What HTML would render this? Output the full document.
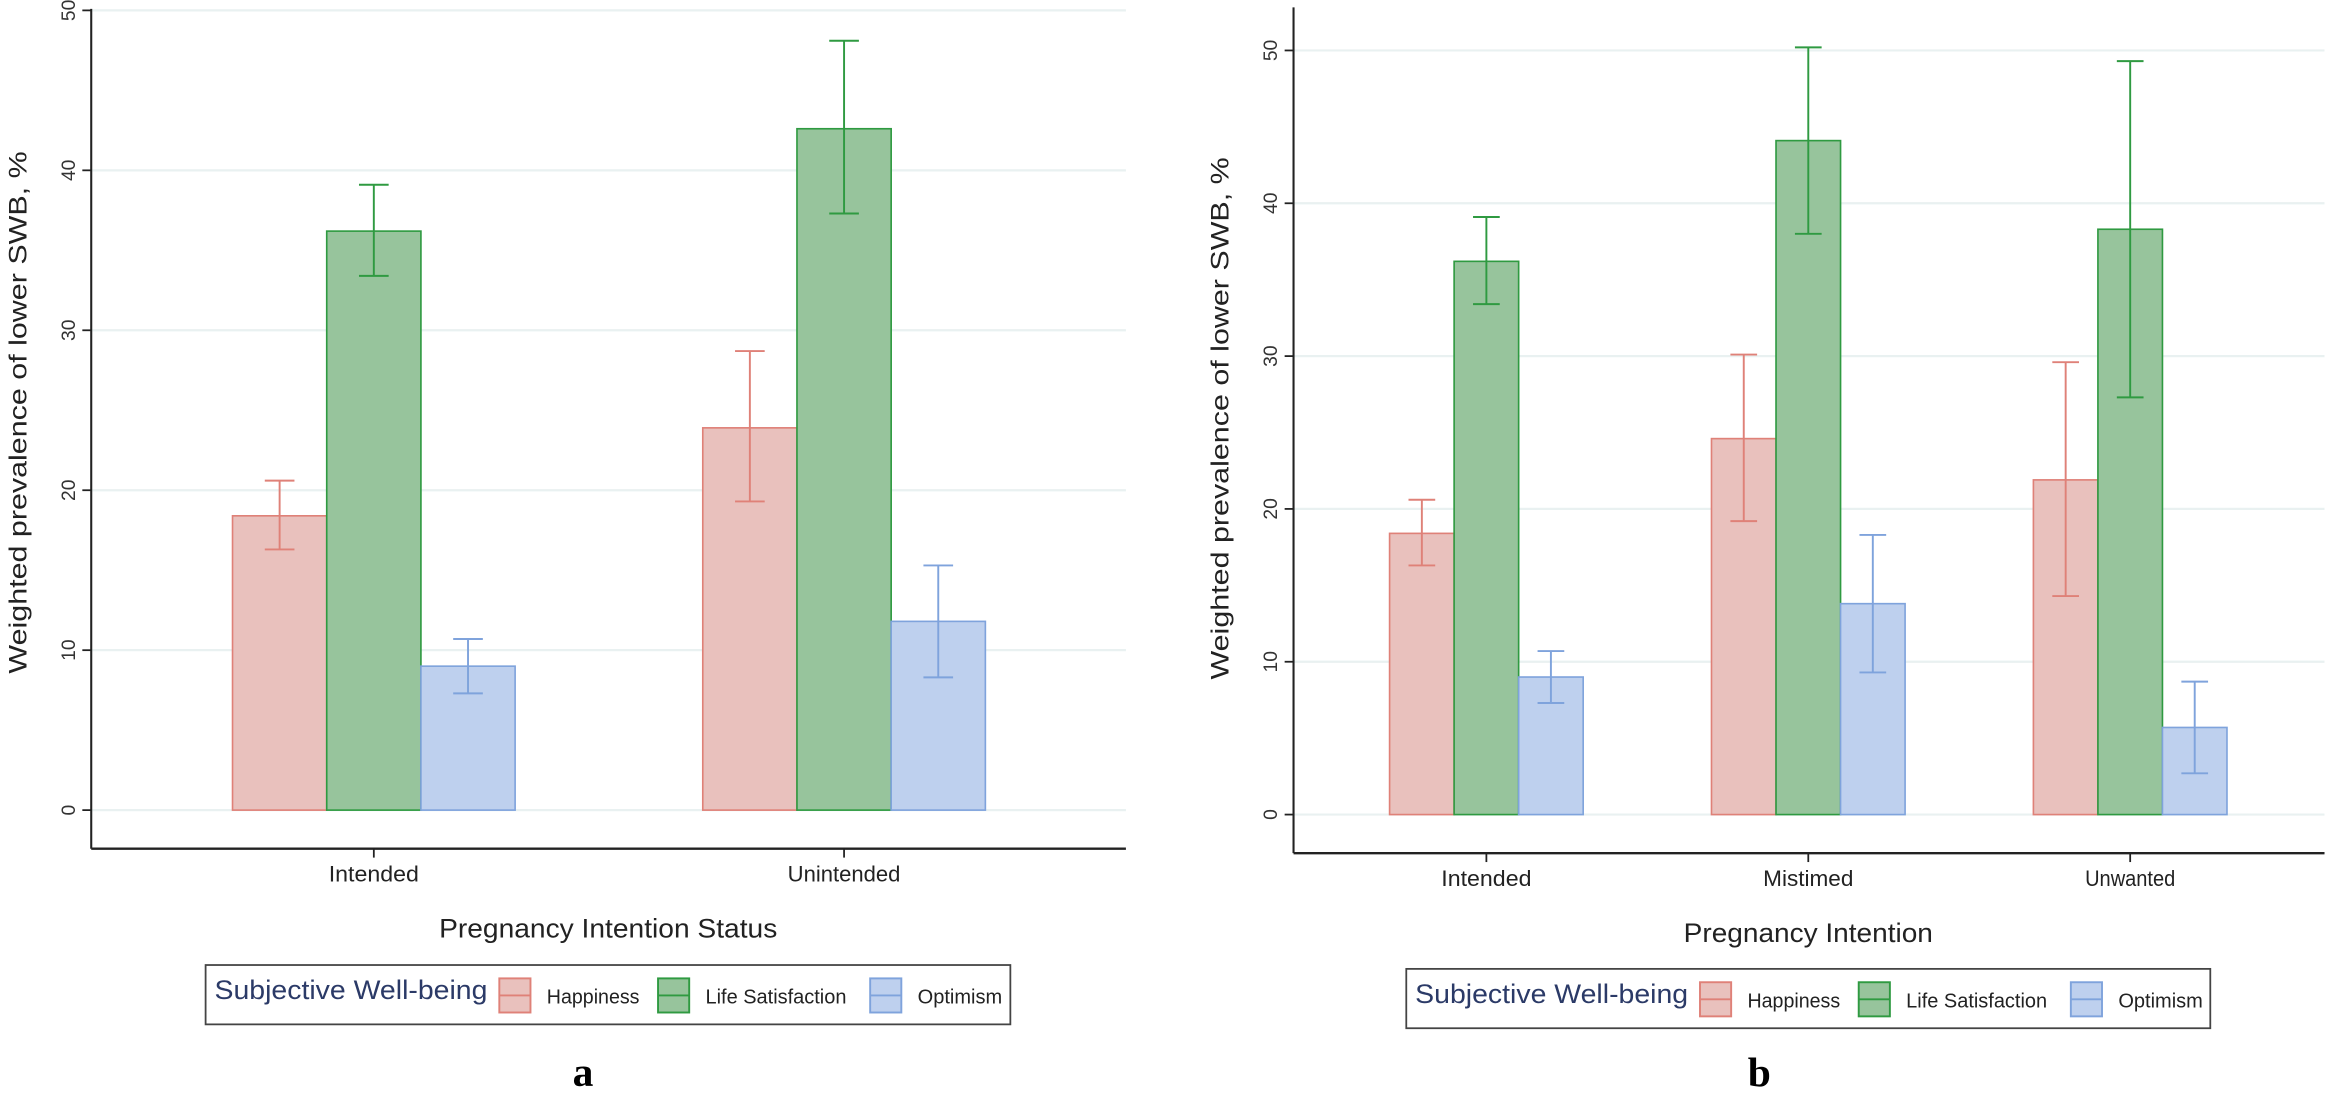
<!DOCTYPE html>
<html><head><meta charset="utf-8">
<style>
html,body{margin:0;padding:0;background:#fff;}
svg{display:block;}
text{font-family:"Liberation Sans",sans-serif;}
</style></head>
<body>
<svg id="chart" width="2326" height="1095" viewBox="0 0 1568 738" preserveAspectRatio="none" xmlns="http://www.w3.org/2000/svg">
<g id="pa"></g>
<g id="pb"></g>
</svg>
<script>
const seriesNames = ["Happiness", "Life Satisfaction", "Optimism"];
const catsA = ["Intended", "Unintended"];
const valsA = [[18.4, 23.9], [36.2, 42.6], [9.0, 11.8]];
const loA = [[16.3, 19.3], [33.4, 37.3], [7.3, 8.3]];
const hiA = [[20.6, 28.7], [39.1, 48.1], [10.7, 15.3]];
const catsB = ["Intended", "Mistimed", "Unwanted"];
const valsB = [[18.4, 24.6, 21.9], [36.2, 44.1, 38.3], [9.0, 13.8, 5.7]];
const loB = [[16.3, 19.2, 14.3], [33.4, 38.0, 27.3], [7.3, 9.3, 2.7]];
const hiB = [[20.6, 30.1, 29.6], [39.1, 50.2, 49.3], [10.7, 18.3, 8.7]];
const yTicks = [0, 10, 20, 30, 40, 50];

const fills = ["#e9c1bd", "#97c49c", "#bed0ee"];
const strokes = ["#df8178", "#2f9a41", "#7fa3dc"];
const NS = "http://www.w3.org/2000/svg";
function mk(parent, tag, attrs, txt) {
  const e = document.createElementNS(NS, tag);
  for (const k in attrs) e.setAttribute(k, attrs[k]);
  if (txt !== undefined) e.textContent = txt;
  parent.appendChild(e);
  return e;
}

function panel(g, cfg) {
  const y = v => cfg.y0 + (cfg.y50 - cfg.y0) * v / 50;
  // gridlines and ticks
  yTicks.forEach(t => {
    const gl = mk(g, "line", {x1: cfg.ax, x2: cfg.right, y1: y(t), y2: y(t), stroke: "#e9f1f1", "stroke-width": 1.5});
    
    
    const tk = mk(g, "line", {x1: cfg.ax - 6, x2: cfg.ax, y1: y(t), y2: y(t), stroke: "#222", "stroke-width": 1.2});
    
    
    const tl = mk(g, "text", {x: 0, y: 0, transform: `translate(${cfg.ax - 11},${y(t)}) rotate(-90)`, "text-anchor": "middle", "font-size": 13, fill: "#333"}, String(t));
    
    
  });
  // bars
  const n = cfg.cats.length;
  cfg.cats.forEach((c, i) => {
    const cx = cfg.c0 + i * cfg.step;
    for (let s = 0; s < 3; s++) {
      const x0 = cx - 1.5 * cfg.bw + s * cfg.bw;
      const v = cfg.vals[s][i];
      const r = mk(g, "rect", {x: x0, y: y(v), width: cfg.bw, height: y(0) - y(v), fill: fills[s], stroke: strokes[s], "stroke-width": 1.1});
      
      
      const ex = x0 + cfg.bw / 2;
      const eg = mk(g, "g", {stroke: strokes[s], "stroke-width": 1.3, fill: "none"});
      
      
      mk(eg, "line", {x1: ex, x2: ex, y1: y(cfg.lo[s][i]), y2: y(cfg.hi[s][i])});
      mk(eg, "line", {x1: ex - cfg.cap / 2, x2: ex + cfg.cap / 2, y1: y(cfg.lo[s][i]), y2: y(cfg.lo[s][i])});
      mk(eg, "line", {x1: ex - cfg.cap / 2, x2: ex + cfg.cap / 2, y1: y(cfg.hi[s][i]), y2: y(cfg.hi[s][i])});
    }
    const xt = mk(g, "line", {x1: cx, x2: cx, y1: cfg.xaxis, y2: cfg.xaxis + 6, stroke: "#222", "stroke-width": 1.2});
    
    
    const xl = mk(g, "text", {x: cx, y: cfg.xlabY, "text-anchor": "middle", "font-size": 15, fill: "#222", textLength: c.length * 7.6, lengthAdjust: "spacingAndGlyphs"}, c);
    
    
  });
  // axes
  const ya = mk(g, "line", {x1: cfg.ax, x2: cfg.ax, y1: cfg.top, y2: cfg.xaxis, stroke: "#222", "stroke-width": 1.4});
  
  
  const xa = mk(g, "line", {x1: cfg.ax, x2: cfg.right, y1: cfg.xaxis, y2: cfg.xaxis, stroke: "#222", "stroke-width": 1.6});
  
  
  const yt = mk(g, "text", {x: 0, y: 0, transform: `translate(${cfg.ylabX},${cfg.ylabY}) rotate(-90)`, "text-anchor": "middle", "font-size": 17, fill: "#222", textLength: 352, lengthAdjust: "spacingAndGlyphs"}, "Weighted prevalence of lower SWB, %");
  
  
  const xtt = mk(g, "text", {x: cfg.titleX, y: cfg.titleY, "text-anchor": "middle", "font-size": 18, fill: "#222", textLength: cfg.titleW, lengthAdjust: "spacingAndGlyphs"}, cfg.title);
  
  
  // legend
  const L = cfg.leg;
  const lg = mk(g, "g", {});
  
  
  mk(lg, "rect", {x: L.x, y: L.y, width: L.w, height: 40, fill: "#fff", stroke: "#444", "stroke-width": 1.2});
  const lt = mk(lg, "text", {x: L.x + 6, y: L.y + 23, "font-size": 18, fill: "#2b3a67", textLength: 184, lengthAdjust: "spacingAndGlyphs"}, "Subjective Well-being");
  
  
  const sw = [L.x + 198, L.x + 305, L.x + 448];
  const tw = [62.5, 95, 57];
  for (let s = 0; s < 3; s++) {
    const eg = mk(lg, "g", {});
    
    
    mk(eg, "rect", {x: sw[s], y: L.y + 9, width: 21, height: 23, fill: fills[s], stroke: strokes[s], "stroke-width": 1.3});
    mk(eg, "line", {x1: sw[s], x2: sw[s] + 21, y1: L.y + 20.5, y2: L.y + 20.5, stroke: strokes[s], "stroke-width": 1.3});
    mk(eg, "text", {x: sw[s] + 32, y: L.y + 26, "font-size": 14, fill: "#222", textLength: tw[s], lengthAdjust: "spacingAndGlyphs"}, seriesNames[s]);
  }
  const pl = mk(g, "text", {x: cfg.letterX, y: 732, "text-anchor": "middle", "font-size": 28, "font-weight": "bold", fill: "#000", style: "font-family:'Liberation Serif',serif"}, cfg.letter);
  
  
}

panel(document.getElementById("pa"), {
  cats: catsA, vals: valsA, lo: loA, hi: hiA,
  ax: 61.5, right: 759, top: 6, xaxis: 572, y0: 546, y50: 7,
  c0: 252, step: 317, bw: 63.5, cap: 20,
  xlabY: 594, ylabX: 18, ylabY: 278,
  title: "Pregnancy Intention Status", titleX: 410, titleY: 632, titleW: 228,
  leg: {x: 138.6, y: 650.4, w: 542.5}, letter: "a", letterX: 393
});
panel(document.getElementById("pb"), {
  cats: catsB, vals: valsB, lo: loB, hi: hiB,
  ax: 872, right: 1567, top: 5, xaxis: 575, y0: 549, y50: 34,
  c0: 1002, step: 217, bw: 43.5, cap: 18,
  xlabY: 597, ylabX: 828, ylabY: 282,
  title: "Pregnancy Intention", titleX: 1219, titleY: 635, titleW: 168,
  leg: {x: 948, y: 653, w: 542}, letter: "b", letterX: 1186
});
</script>
</body></html>
